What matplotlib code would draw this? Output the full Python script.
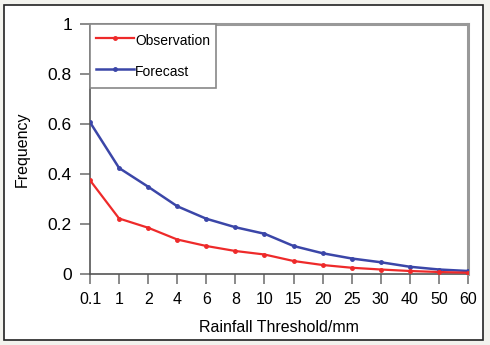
import matplotlib
matplotlib.use("Agg")
import matplotlib.pyplot as plt
from matplotlib.patches import Rectangle

plt.rcParams['font.family'] = ['Liberation Sans', 'DejaVu Sans']

thresholds = ["0.1", "1", "2", "4", "6", "8", "10", "15", "20", "25", "30", "40", "50", "60"]
observation = [0.375, 0.222, 0.185, 0.138, 0.112, 0.092, 0.078, 0.052, 0.036, 0.025, 0.018, 0.012, 0.008, 0.005]
forecast = [0.607, 0.424, 0.349, 0.271, 0.221, 0.187, 0.161, 0.112, 0.083, 0.062, 0.047, 0.029, 0.018, 0.012]
y_ticks = [0, 0.2, 0.4, 0.6, 0.8, 1]
y_tick_labels = ["0", "0.2", "0.4", "0.6", "0.8", "1"]

W, H = 490, 345
fig = plt.figure(figsize=(W / 100, H / 100), dpi=100)
fig.patch.set_facecolor('#f3f3ee')
fig.patches.append(Rectangle((4 / W, 5 / H), 479 / W, 335 / H, transform=fig.transFigure,
                             facecolor='white', edgecolor='#222222', linewidth=1.2, zorder=-5))

ax = fig.add_axes([90 / W, (H - 274) / H, 378 / W, 250 / H])
ax.set_zorder(5)
ax.set_facecolor('white')
x = list(range(len(thresholds)))
ax.plot(x, forecast, color='#3b46a8', lw=1.8, marker='o', ms=2.5, label='Forecast', zorder=3)
ax.plot(x, observation, color='#ee2a2a', lw=1.6, marker='o', ms=2.5, label='Observation', zorder=4)

ax.set_xlim(0, len(thresholds) - 1)
ax.set_ylim(0, 1)
ax.set_xticks(x)
ax.set_xticklabels(thresholds, fontsize=11.5)
ax.set_yticks(y_ticks)
ax.set_yticklabels(y_tick_labels, fontsize=12.5)
ax.tick_params(axis='both', direction='out', length=7, width=1.2, color='#777777', pad=6)

for s in ['left', 'bottom']:
    ax.spines[s].set_color('#555555')
    ax.spines[s].set_linewidth(1.2)
for s in ['top', 'right']:
    ax.spines[s].set_color('#999999')
    ax.spines[s].set_linewidth(2.2)

ax.set_xlabel('Rainfall Threshold/mm', fontsize=11.5, labelpad=9)
ax.set_ylabel('Frequency', fontsize=11.5, labelpad=13)

handles, labels = ax.get_legend_handles_labels()
leg = ax.legend(handles[::-1], labels[::-1], loc='upper left', bbox_to_anchor=(0, 1),
                borderaxespad=0, fancybox=False, edgecolor='#888888', fontsize=10,
                handlelength=2.7, handleheight=1.9, handletextpad=0.1, labelspacing=0.76,
                borderpad=0.45, framealpha=1)
leg.get_frame().set_linewidth(1.2)

fig.savefig('out.png', dpi=100, facecolor=fig.get_facecolor())
